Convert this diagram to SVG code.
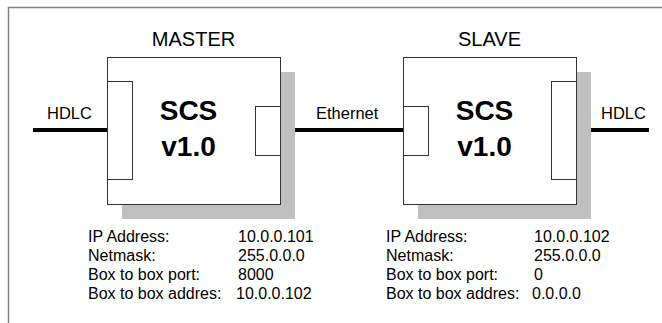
<svg xmlns="http://www.w3.org/2000/svg" width="662" height="323" viewBox="0 0 662 323">
  <style>
    .frame { fill: none; stroke: #808080; stroke-width: 1.5; }
    .shadow { fill: #c0c0c0; stroke: none; }
    .box { fill: #ffffff; stroke: #333333; stroke-width: 1; }
    .port { fill: #ffffff; stroke: #333333; stroke-width: 1; }
    .link { stroke: #000000; stroke-width: 4; fill: none; }
    .title { font-family: "Liberation Sans", Arial, sans-serif; font-size: 20px; fill: #000; text-anchor: middle; }
    .label { font-family: "Liberation Sans", Arial, sans-serif; font-size: 16.5px; fill: #000; }
    .big { font-family: "Liberation Sans", Arial, sans-serif; font-size: 28px; font-weight: bold; fill: #000; text-anchor: middle; }
    .info { font-family: "Liberation Sans", Arial, sans-serif; font-size: 16px; fill: #000; }
  </style>

  <!-- page frame: top and left edges -->
  <path class="frame" d="M8.5,323 V7.5 H662"/>

  <!-- connectors -->
  <g id="connectors">
    <line class="link" x1="33" y1="130" x2="107" y2="130"/>
    <line class="link" x1="280" y1="130" x2="403" y2="130"/>
    <line class="link" x1="576" y1="130" x2="649" y2="130"/>
    <text class="label" x="47" y="119">HDLC</text>
    <text class="label" x="316" y="119">Ethernet</text>
    <text class="label" x="601" y="119">HDLC</text>
  </g>

  <!-- master unit -->
  <g id="master">
    <text class="title" x="193.5" y="45.5">MASTER</text>
    <rect class="shadow" x="122" y="72" width="173" height="147"/>
    <rect class="box" x="107.5" y="57.5" width="173" height="147"/>
    <rect class="port" x="107.5" y="81.5" width="25" height="98"/>
    <rect class="port" x="255.5" y="106.5" width="25" height="49"/>
    <text class="big" x="188.5" y="120">SCS</text>
    <text class="big" x="188.5" y="156">v1.0</text>
  </g>

  <!-- slave unit -->
  <g id="slave">
    <text class="title" x="489.5" y="45.5">SLAVE</text>
    <rect class="shadow" x="418" y="72" width="173" height="147"/>
    <rect class="box" x="403.5" y="57.5" width="173" height="147"/>
    <rect class="port" x="403.5" y="106.5" width="25" height="49"/>
    <rect class="port" x="551.5" y="81.5" width="25" height="98"/>
    <text class="big" x="484.5" y="120">SCS</text>
    <text class="big" x="484.5" y="156">v1.0</text>
  </g>

  <!-- master settings -->
  <g id="master-settings">
    <text class="info" x="88" y="242">IP Address:</text>
    <text class="info" x="88" y="261">Netmask:</text>
    <text class="info" x="88" y="280">Box to box port:</text>
    <text class="info" x="88" y="299">Box to box addres:</text>
    <text class="info" x="238" y="242">10.0.0.101</text>
    <text class="info" x="238" y="261">255.0.0.0</text>
    <text class="info" x="238" y="280">8000</text>
    <text class="info" x="236" y="299">10.0.0.102</text>
  </g>

  <!-- slave settings -->
  <g id="slave-settings">
    <text class="info" x="386" y="242">IP Address:</text>
    <text class="info" x="386" y="261">Netmask:</text>
    <text class="info" x="386" y="280">Box to box port:</text>
    <text class="info" x="386" y="299">Box to box addres:</text>
    <text class="info" x="534" y="242">10.0.0.102</text>
    <text class="info" x="534" y="261">255.0.0.0</text>
    <text class="info" x="534" y="280">0</text>
    <text class="info" x="532" y="299">0.0.0.0</text>
  </g>
</svg>
